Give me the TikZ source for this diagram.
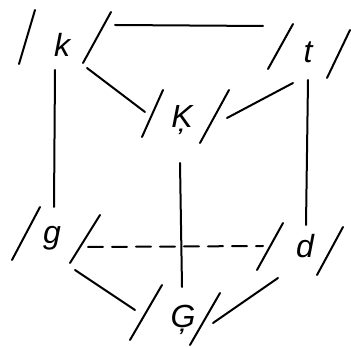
\documentclass[tikz,border=0pt]{standalone}
\usepackage{fontspec}
\setsansfont{Liberation Sans}
\begin{document}
\begin{tikzpicture}[x=1pt,y=-1pt,
  lbl/.style={font=\fontsize{32}{36}\selectfont\sffamily\itshape,inner sep=0pt},
  ink/.style={line width=2pt,line cap=round},
  dsh/.style={ink,dash pattern=on 15pt off 9pt}]
\useasboundingbox (0,0) rectangle (351,347);
% labels
\node[lbl] (k) at (62,45) {k};
\node[lbl] (t) at (308,52) {t};
\node[lbl] (K) at (182,120) {\c{K}};
\node[lbl] (g) at (52,238) {g};
\node[lbl] (d) at (305,246) {d};
\node[lbl] (G) at (183,320) {\c{G}};
% slashes
\draw[ink] (19,64) -- (35,10);
\draw[ink] (83,63) -- (111,12);
\draw[ink] (268,69) -- (293,24);
\draw[ink] (327,78) -- (350,30);
\draw[ink] (142,137) -- (163,90);
\draw[ink] (200,143) -- (229,90);
\draw[ink] (12,260) -- (40,207);
\draw[ink] (70,263) -- (100,215);
\draw[ink] (257,270) -- (283,223);
\draw[ink] (317,275) -- (343,227);
\draw[ink] (130,340) -- (162,285);
\draw[ink] (190,345) -- (220,293);
% connector ends
\coordinate (kR) at (115,25);
\coordinate (tL) at (263,26);
\coordinate (kD) at (87,68);
\coordinate (KL) at (145,112);
\coordinate (tD) at (293,83);
\coordinate (KR) at (227,118);
\coordinate (kB) at (55,70);
\coordinate (gT) at (54,207);
\coordinate (tB) at (308,80);
\coordinate (dT) at (306,225);
\coordinate (KB) at (180,163);
\coordinate (GT) at (182,287);
\coordinate (gR) at (88,247);
\coordinate (dL) at (263,246);
\coordinate (gD) at (75,270);
\coordinate (GL) at (135,310);
\coordinate (dD) at (278,278);
\coordinate (GR) at (213,323);
% connectors
\draw[ink] (kR) -- (tL);
\draw[ink] (kD) -- (KL);
\draw[ink] (tD) -- (KR);
\draw[ink] (kB) -- (gT);
\draw[ink] (tB) -- (dT);
\draw[ink] (KB) -- (GT);
\draw[dsh] (gR) -- (dL);
\draw[ink] (gD) -- (GL);
\draw[ink] (dD) -- (GR);
\end{tikzpicture}
\end{document}
